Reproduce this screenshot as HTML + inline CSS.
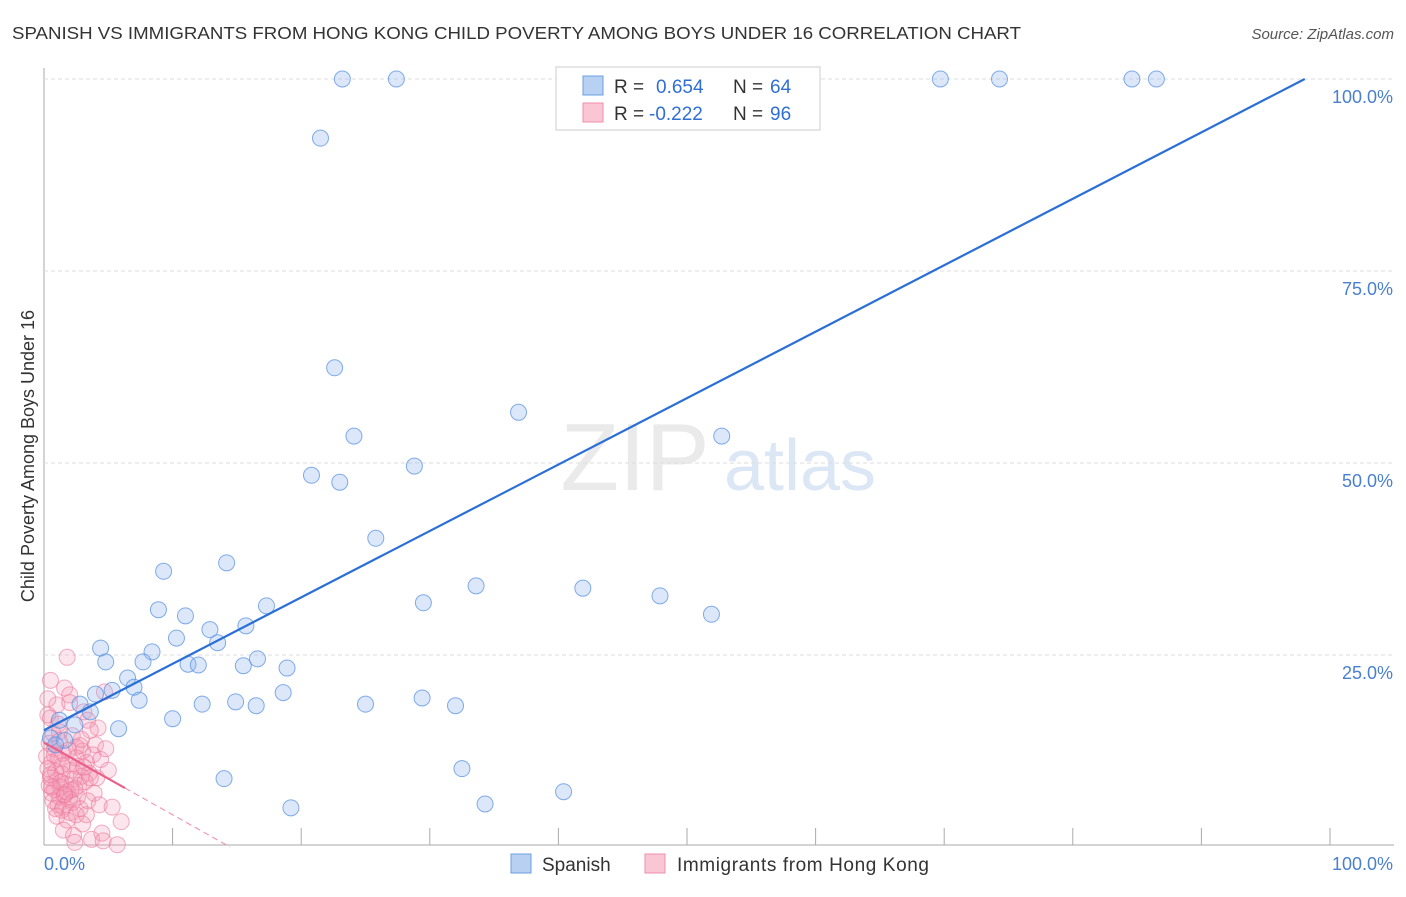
<!DOCTYPE html>
<html><head><meta charset="utf-8"><style>
body{margin:0;background:#fff;font-family:"Liberation Sans",sans-serif}
svg text{font-family:"Liberation Sans",sans-serif}
</style></head><body>
<svg id="c" width="1406" height="892">
<text x="12" y="39" font-size="17.5" fill="#333" textLength="1009" lengthAdjust="spacingAndGlyphs">SPANISH VS IMMIGRANTS FROM HONG KONG CHILD POVERTY AMONG BOYS UNDER 16 CORRELATION CHART</text>
<text x="1394" y="39" font-size="15" fill="#555" font-style="italic" text-anchor="end">Source: ZipAtlas.com</text>
<text x="34" y="456" font-size="18" fill="#333" text-anchor="middle" transform="rotate(-90 34 456)">Child Poverty Among Boys Under 16</text>
<g><text x="635" y="490" font-size="96" fill="#ddd" font-family="Liberation Serif" text-anchor="middle" opacity="0.6">ZIP</text><text x="800" y="490" font-size="72" fill="#c6d8f0" text-anchor="middle" opacity="0.6">atlas</text></g>
<g id="grid"></g><g id="marks"></g>
<g>
<rect x="556" y="67" width="264" height="63" fill="#fff" stroke="#ccc"/>
<rect x="583" y="76" width="20" height="19" fill="#b8d1f3" stroke="#6a9fe0"/>
<rect x="583" y="103" width="20" height="19" fill="#f9c6d5" stroke="#ef8fab"/>
<text x="614" y="93" font-size="19" fill="#333">R =</text><text x="656" y="93" font-size="19" fill="#2f6fd4">0.654</text>
<text x="733" y="93" font-size="19" fill="#333">N =</text><text x="770" y="93" font-size="19" fill="#2f6fd4">64</text>
<text x="614" y="120" font-size="19" fill="#333">R =</text><text x="649" y="120" font-size="19" fill="#2f6fd4">-0.222</text>
<text x="733" y="120" font-size="19" fill="#333">N =</text><text x="770" y="120" font-size="19" fill="#2f6fd4">96</text>
</g>
<g>
<rect x="511" y="854" width="20" height="19" fill="#b8d1f3" stroke="#6a9fe0"/>
<text x="542" y="871" font-size="19" fill="#333">Spanish</text>
<rect x="645" y="854" width="20" height="19" fill="#f9c6d5" stroke="#ef8fab"/>
<text x="677" y="871" font-size="19" fill="#333" textLength="252">Immigrants from Hong Kong</text>
</g>
</svg>
<script>
const xTicks=[0,10,20,30,40,50,60,70,80,90,100];
const yTicks=[25,50,75,100];
const yTickLabels=["25.0%","50.0%","75.0%","100.0%"];
const blueX=[23.2,27.4,69.7,74.3,84.6,86.5,21.5,22.6,36.9,52.7,24.1,28.8,20.8,23.0,25.8,9.3,14.2,33.6,41.9,47.9,29.5,51.9,8.9,11.0,17.3,12.9,10.3,15.7,13.5,4.4,8.4,4.8,7.7,11.2,12.0,15.5,16.6,18.9,6.5,7.0,5.3,4.0,7.4,12.3,14.9,16.5,18.6,25.0,29.4,32.0,10.0,5.8,2.8,1.2,0.5,14.0,32.5,19.2,34.3,40.4,2.4,1.6,0.9,3.6];
const blueY=[100,100,100,100,100,100,92.3,62.4,56.6,53.5,53.5,49.6,48.4,47.5,40.2,35.9,37.0,34.0,33.7,32.7,31.8,30.3,30.9,30.1,31.4,28.3,27.2,28.8,26.6,25.9,25.4,24.1,24.1,23.8,23.7,23.6,24.5,23.3,22.0,20.8,20.4,19.9,19.1,18.6,18.9,18.4,20.1,18.6,19.4,18.4,16.7,15.4,18.6,16.5,14.2,8.9,10.2,5.1,5.6,7.2,15.9,13.9,13.3,17.6];
const pinkX=[1.8,0.5,1.6,2.0,4.7,1.0,3.1,3.4,4.2,0.5,0.3,1.2,2.2,2.8,3.6,4.0,0.4,0.8,1.5,2.5,3.0,3.8,4.4,0.2,0.6,1.1,1.9,2.6,3.3,0.3,0.9,1.4,2.1,2.9,3.5,4.1,5.0,0.5,1.0,1.7,2.3,2.7,3.2,0.4,0.8,1.3,1.8,2.4,3.9,0.6,1.2,1.6,2.0,2.6,3.4,0.7,1.1,1.5,2.2,4.3,0.9,1.4,2.0,2.8,3.3,1.0,1.8,2.5,3.0,5.3,1.5,2.3,3.7,4.5,6.0,2.4,4.6,5.7,0.3,0.7,1.2,1.9,2.5,3.1,0.5,1.3,2.1,1.6,0.8,2.9,3.6,1.1,4.8,2.0,1.4,0.6];
const pinkY=[24.7,21.7,20.7,19.8,20.2,18.5,17.6,16.5,15.5,16.8,19.3,15.0,14.5,13.2,15.2,13.3,13.5,12.8,12.2,13.0,12.5,12.0,11.4,11.8,11.0,11.5,10.8,10.5,11.0,10.2,9.8,9.5,10.0,9.2,9.6,9.0,10.0,9.0,8.6,8.2,8.8,8.0,8.5,8.0,7.5,7.8,7.2,7.6,7.0,7.0,6.5,6.8,6.2,6.5,6.0,6.0,5.5,5.2,5.8,5.5,5.0,4.8,4.5,5.0,4.2,4.0,3.5,4.2,3.0,5.2,2.2,1.5,1.0,1.8,3.3,0.6,0.8,0.3,17.2,14.8,13.8,12.6,11.6,10.4,9.4,8.4,7.4,6.8,12.0,14.0,9.0,16.0,12.8,18.8,10.6,7.8];
const blueLine=[15.2,0.865];
const pinkLine=[13.6,-0.94];
const NS="http://www.w3.org/2000/svg";
const X=v=>44+v*12.86, Y=v=>847-v*7.68;
const grid=document.getElementById('grid'), marks=document.getElementById('marks');
function mk(tag,a,p){const e=document.createElementNS(NS,tag);for(const k in a)e.setAttribute(k,a[k]);p.appendChild(e);return e;}
let e=mk('line',{x1:44,y1:68,x2:44,y2:845,stroke:'#aaa'},grid);


e=mk('line',{x1:44,y1:845,x2:1394,y2:845,stroke:'#aaa'},grid);


xTicks.forEach(t=>{const l=mk('line',{x1:X(t),y1:828,x2:X(t),y2:845,stroke:'#aaa'},grid);

});
yTicks.forEach((t,i)=>{const l=mk('line',{x1:44,y1:Y(t),x2:1394,y2:Y(t),stroke:'#ddd','stroke-dasharray':'4,3'},grid);


const tx=mk('text',{x:1393,y:Y(t)+24,'font-size':18,fill:'#4a7fd0','text-anchor':'end'},grid);tx.textContent=yTickLabels[i];

});
let t0=mk('text',{x:44,y:870,'font-size':18,fill:'#4a7fd0'},grid);t0.textContent='0.0%';


let t1=mk('text',{x:1393,y:870,'font-size':18,fill:'#4a7fd0','text-anchor':'end'},grid);t1.textContent='100.0%';


pinkX.forEach((v,i)=>{const c=mk('circle',{cx:X(v),cy:Y(pinkY[i]),r:8,fill:'rgba(244,150,178,0.25)',stroke:'rgba(236,120,155,0.6)','stroke-width':1},marks);

});
blueX.forEach((v,i)=>{const c=mk('circle',{cx:X(v),cy:Y(blueY[i]),r:8,fill:'rgba(140,180,240,0.3)',stroke:'rgba(90,145,225,0.75)','stroke-width':1},marks);

});
const bEnd=(100-blueLine[0])/blueLine[1];
e=mk('line',{x1:X(0),y1:Y(blueLine[0]),x2:X(bEnd),y2:Y(100),stroke:'#2a6fd6','stroke-width':2.2},marks);


const pSolid=6.3, pEnd=-pinkLine[0]/pinkLine[1];
e=mk('line',{x1:X(0),y1:Y(pinkLine[0]),x2:X(pSolid),y2:Y(pinkLine[0]+pinkLine[1]*pSolid),stroke:'#e9608a','stroke-width':2.2},marks);


e=mk('line',{x1:X(pSolid),y1:Y(pinkLine[0]+pinkLine[1]*pSolid),x2:X(pEnd),y2:Y(0),stroke:'#ef9ab4','stroke-width':1.2,'stroke-dasharray':'6,4'},marks);


</script>
</body></html>
